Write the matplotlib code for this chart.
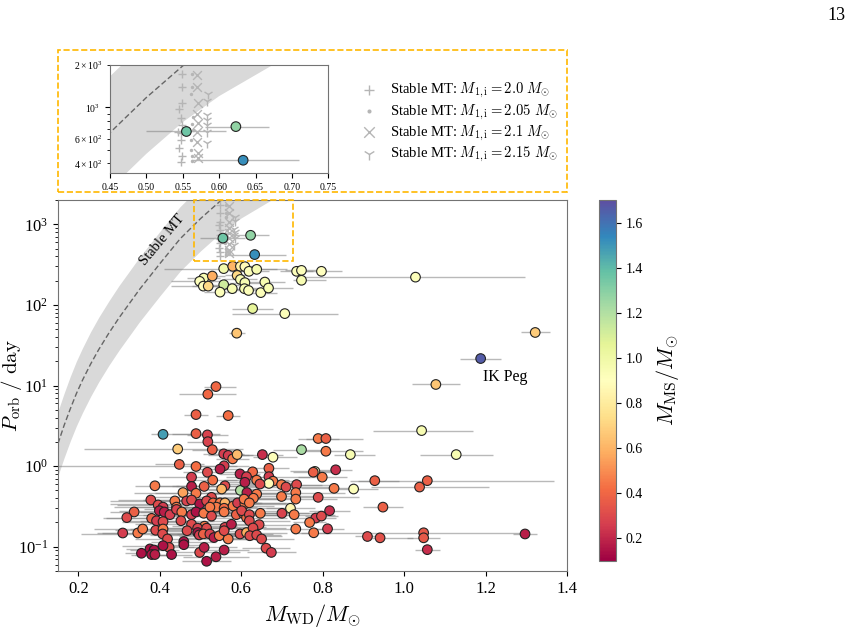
import numpy as np
import matplotlib.pyplot as plt
from matplotlib.patches import Rectangle

plt.rcParams['font.family'] = ['Liberation Serif', 'DejaVu Serif']
plt.rcParams['mathtext.fontset'] = 'cm'

# stable mass transfer relation
mt_mass = [0.15, 0.165, 0.18, 0.195, 0.21, 0.23, 0.25, 0.275, 0.30, 0.35, 0.40, 0.45, 0.50,
           0.55, 0.60, 0.65, 0.70, 0.75, 0.80]
mt_p = [1.9, 3.2, 5.1, 7.9, 11.6, 18.4, 27.9, 44.7, 69.2, 155, 324, 661, 1175,
        1972, 3020, 4266, 6026, 7852, 10233]
mt_p_hi = [4.8, 8.0, 12.9, 19.9, 29.1, 46.3, 70.1, 112, 174, 389, 813, 1660, 2951,
           4955, 7586, 10715, 15136, 19724, 25704]
mt_p_lo = [0.76, 1.27, 2.04, 3.14, 4.6, 7.3, 11.1, 17.8, 27.5, 61.7, 129, 263, 468,
           785, 1202, 1698, 2399, 3126, 4074]

# observed WD+MS binaries
m_wd = [0.555, 0.623, 0.633, 0.557, 0.579, 0.598, 0.609, 0.619, 0.638, 0.736, 0.748, 0.797,
        0.748, 1.028, 0.508, 0.498, 0.507, 0.519, 0.529, 0.557, 0.548, 0.578, 0.590, 0.598,
        0.609, 0.608, 0.618, 0.648, 0.658, 0.667, 0.628, 0.707, 0.589,
        1.322, 1.188, 1.078, 1.043, 0.789, 0.808, 0.748, 0.808, 0.868, 1.128, 0.781, 0.777,
        0.832, 0.799, 0.928, 1.057, 0.828, 0.876, 1.038, 0.789, 0.817, 0.948, 0.783, 0.797,
        0.768, 0.812, 0.778, 0.910, 0.941, 1.048, 1.048, 1.297, 1.057,
        0.538, 0.518, 0.489, 0.568, 0.408, 0.489, 0.517, 0.518, 0.444, 0.529, 0.557, 0.568,
        0.579, 0.590, 0.448, 0.489, 0.558, 0.548, 0.517, 0.597, 0.652, 0.678, 0.668, 0.628,
        0.478, 0.530, 0.613, 0.388, 0.478, 0.509, 0.560, 0.598, 0.609, 0.457, 0.489, 0.527,
        0.378, 0.437, 0.466, 0.478, 0.498, 0.515, 0.531, 0.548, 0.560, 0.539, 0.558, 0.580,
        0.591, 0.609, 0.396, 0.408, 0.399, 0.411, 0.425, 0.441, 0.441, 0.454, 0.337, 0.319,
        0.380, 0.392, 0.408, 0.452, 0.478, 0.489, 0.508, 0.523, 0.527, 0.558, 0.588, 0.605,
        0.613, 0.478, 0.510, 0.560, 0.576, 0.467, 0.493, 0.515, 0.309, 0.346, 0.358, 0.390,
        0.408, 0.407, 0.419, 0.493, 0.497, 0.507, 0.523, 0.533, 0.546, 0.568, 0.558, 0.597,
        0.613, 0.459, 0.459, 0.423, 0.408, 0.376, 0.386, 0.355, 0.380, 0.388, 0.429, 0.498,
        0.509, 0.558, 0.515, 0.538, 0.668, 0.678, 0.668, 0.699, 0.710, 0.736, 0.734, 0.734,
        0.699, 0.638, 0.646, 0.614, 0.638, 0.630, 0.607, 0.620, 0.601, 0.620, 0.620, 0.647,
        0.700, 0.721, 0.730, 0.644, 0.629, 0.621, 0.638, 0.650, 0.661, 0.674, 0.734, 0.552]

p_orb = [674, 730, 421, 282, 301, 301, 298, 261, 276, 261, 268, 261,
         202, 221, 215, 196, 171, 171, 228, 178, 144, 159, 232, 207,
         189, 159, 151, 142, 192, 162, 90, 78, 44.6,
         45.5, 21.6, 10.3, 2.76, 2.2, 2.2, 1.6, 1.53, 1.39, 1.39, 0.86, 0.84,
         0.90, 0.73, 0.66, 0.66, 0.53, 0.52, 0.55, 0.41, 0.28, 0.31, 0.227, 0.24,
         0.20, 0.167, 0.149, 0.134, 0.129, 0.149, 0.129, 0.144, 0.092,
         9.7, 7.8, 4.36, 4.24, 2.48, 2.53, 2.44, 2.01, 1.63, 1.60, 1.42, 1.36,
         1.23, 1.39, 1.05, 0.99, 1.01, 0.92, 0.84, 0.80, 1.39, 1.29, 0.94, 0.85,
         0.73, 0.67, 0.74, 0.57, 0.56, 0.56, 0.57, 0.50, 0.63, 0.47, 0.46, 0.41,
         0.38, 0.37, 0.37, 0.38, 0.34, 0.37, 0.35, 0.35, 0.35, 0.31, 0.30, 0.32,
         0.35, 0.34, 0.33, 0.31, 0.28, 0.27, 0.25, 0.31, 0.29, 0.27, 0.27, 0.23,
         0.225, 0.21, 0.205, 0.21, 0.25, 0.27, 0.26, 0.31, 0.24, 0.27, 0.25, 0.26,
         0.23, 0.19, 0.18, 0.174, 0.19, 0.158, 0.17, 0.17, 0.148, 0.148, 0.166, 0.16,
         0.166, 0.144, 0.125, 0.15, 0.14, 0.144, 0.144, 0.13, 0.137, 0.125, 0.158, 0.144,
         0.15, 0.116, 0.106, 0.098, 0.103, 0.094, 0.091, 0.083, 0.080, 0.080, 0.080, 0.085,
         0.098, 0.091, 0.066, 0.075, 0.74, 0.65, 0.61, 0.59, 0.55, 0.59, 0.47, 0.39,
         0.42, 0.67, 0.60, 0.47, 0.45, 0.40, 0.39, 0.35, 0.28, 0.25, 0.21, 0.26,
         0.26, 0.30, 0.25, 0.188, 0.171, 0.137, 0.14, 0.125, 0.096, 0.085, 0.166, 0.52]

m_ms = [1.36, 1.28, 1.52, 0.98, 0.60, 0.82, 0.88, 0.92, 0.95, 0.92, 0.92, 0.90,
        0.95, 0.92, 0.95, 0.92, 0.90, 0.72, 0.58, 1.12, 0.92, 0.95, 0.72, 0.95,
        0.95, 0.95, 0.92, 0.92, 0.95, 0.95, 1.05, 0.92, 0.65,
        0.68, 1.66, 0.65, 0.95, 0.45, 0.38, 1.22, 0.45, 0.95, 0.95, 0.90, 0.38,
        0.22, 0.45, 0.38, 0.38, 0.45, 0.92, 0.38, 0.30, 0.22, 0.38, 0.26, 0.30,
        0.45, 0.26, 0.45, 0.30, 0.33, 0.35, 0.35, 0.18, 0.22,
        0.40, 0.40, 0.38, 0.42, 1.48, 0.38, 0.28, 0.28, 0.68, 0.38, 0.26, 0.26,
        0.45, 0.62, 0.38, 0.42, 0.26, 0.18, 0.30, 0.18, 0.22, 0.92, 0.38, 0.40,
        0.26, 0.42, 0.26, 0.45, 0.18, 0.38, 0.30, 1.20, 0.18, 0.55, 0.45, 0.30,
        0.30, 0.45, 0.28, 0.30, 0.15, 0.30, 0.42, 0.45, 0.60, 0.45, 0.42, 0.45,
        0.26, 0.45, 0.30, 0.26, 0.18, 0.18, 0.26, 0.45, 0.28, 0.45, 0.38, 0.30,
        0.38, 0.26, 0.30, 0.30, 0.26, 0.15, 0.45, 0.45, 0.30, 0.45, 0.38, 0.45,
        0.42, 0.30, 0.45, 0.28, 0.18, 0.30, 0.28, 0.30, 0.26, 0.45, 0.45, 0.30,
        0.45, 0.30, 0.30, 0.15, 0.26, 0.38, 0.28, 0.18, 0.45, 0.45, 0.30, 0.30,
        0.58, 0.15, 0.15, 0.30, 0.15, 0.15, 0.15, 0.15, 0.15, 0.18, 0.15, 0.30,
        0.18, 0.18, 0.15, 0.18, 0.26, 0.45, 0.88, 0.45, 0.30, 0.30, 0.45, 0.45,
        0.45, 0.45, 0.30, 0.18, 0.45, 0.45, 0.45, 0.45, 0.30, 0.30, 0.30, 0.45,
        0.28, 0.85, 0.45, 0.30, 0.30, 0.30, 0.30, 0.30, 0.30, 0.26, 0.45, 0.60]

err_lo = [0.056, 0.043, 0.072, 0.147, 0.03, 0.03, 0.04, 0.05, 0.03, 0.04, 0.04, 0.05,
          0.02, 0.28, 0.04, 0.07, 0.08, 0.04, 0.03, 0.04, 0.04, 0.04, 0.03, 0.04,
          0.04, 0.03, 0.04, 0.04, 0.05, 0.06, 0.05, 0.13, 0.02,
          0.036, 0.05, 0.058, 0.12, 0.05, 0.05, 0.07, 0.06, 0.04, 0.09, 0.06, 0.05,
          0.04, 0.06, 0.06, 0.17, 0.08, 0.06, 0.12, 0.05, 0.05, 0.05, 0.05, 0.04,
          0.04, 0.04, 0.05, 0.03, 0.03, 0.30, 0.04, 0.03, 0.03,
          0.03, 0.07, 0.03, 0.03, 0.03, 0.06, 0.05, 0.05, 0.23, 0.05, 0.05, 0.05,
          0.04, 0.04, 0.06, 0.40, 0.06, 0.05, 0.06, 0.05, 0.05, 0.05, 0.05, 0.05,
          0.08, 0.06, 0.05, 0.05, 0.10, 0.08, 0.12, 0.08, 0.06, 0.12, 0.10, 0.14,
          0.08, 0.16, 0.10, 0.12, 0.22, 0.08, 0.10, 0.08, 0.10, 0.12, 0.10, 0.08,
          0.10, 0.08, 0.10, 0.12, 0.10, 0.06, 0.08, 0.10, 0.08, 0.06, 0.06, 0.05,
          0.12, 0.08, 0.10, 0.10, 0.12, 0.10, 0.12, 0.08, 0.10, 0.06, 0.10, 0.08,
          0.08, 0.14, 0.08, 0.10, 0.06, 0.10, 0.08, 0.10, 0.05, 0.10, 0.12, 0.10,
          0.08, 0.20, 0.08, 0.10, 0.12, 0.10, 0.08, 0.08, 0.10, 0.06, 0.08, 0.08,
          0.10, 0.08, 0.08, 0.06, 0.10, 0.06, 0.06, 0.04, 0.05, 0.05, 0.05, 0.08,
          0.06, 0.06, 0.06, 0.08, 0.08, 0.06, 0.06, 0.10, 0.10, 0.10, 0.10, 0.12,
          0.10, 0.08, 0.08, 0.10, 0.12, 0.10, 0.12, 0.10, 0.12, 0.10, 0.10, 0.10,
          0.10, 0.06, 0.10, 0.08, 0.08, 0.08, 0.06, 0.08, 0.06, 0.06, 0.08, 0.08]

err_hi = [0.055, 0.046, 0.077, 0.155, 0.03, 0.04, 0.04, 0.05, 0.05, 0.04, 0.04, 0.05,
          0.06, 0.27, 0.04, 0.06, 0.06, 0.04, 0.03, 0.04, 0.04, 0.04, 0.03, 0.04,
          0.06, 0.03, 0.04, 0.04, 0.05, 0.06, 0.05, 0.13, 0.02,
          0.037, 0.05, 0.06, 0.125, 0.05, 0.09, 0.07, 0.09, 0.06, 0.09, 0.06, 0.05,
          0.04, 0.06, 0.06, 0.31, 0.05, 0.06, 0.17, 0.10, 0.05, 0.05, 0.05, 0.04,
          0.04, 0.04, 0.04, 0.03, 0.08, 0.25, 0.04, 0.03, 0.03,
          0.05, 0.07, 0.03, 0.03, 0.14, 0.04, 0.05, 0.05, 0.16, 0.05, 0.05, 0.05,
          0.04, 0.04, 0.06, 0.10, 0.06, 0.05, 0.06, 0.05, 0.05, 0.06, 0.05, 0.05,
          0.06, 0.06, 0.05, 0.06, 0.08, 0.08, 0.10, 0.10, 0.06, 0.10, 0.10, 0.12,
          0.08, 0.08, 0.10, 0.10, 0.12, 0.08, 0.12, 0.10, 0.08, 0.10, 0.15, 0.10,
          0.12, 0.10, 0.06, 0.06, 0.06, 0.06, 0.08, 0.08, 0.08, 0.06, 0.06, 0.06,
          0.08, 0.08, 0.10, 0.08, 0.10, 0.12, 0.12, 0.08, 0.10, 0.08, 0.10, 0.08,
          0.10, 0.10, 0.08, 0.10, 0.06, 0.08, 0.08, 0.10, 0.05, 0.06, 0.06, 0.08,
          0.08, 0.10, 0.08, 0.10, 0.12, 0.10, 0.08, 0.08, 0.10, 0.06, 0.08, 0.08,
          0.10, 0.08, 0.06, 0.06, 0.06, 0.06, 0.06, 0.04, 0.05, 0.05, 0.05, 0.10,
          0.08, 0.06, 0.06, 0.08, 0.10, 0.06, 0.08, 0.10, 0.12, 0.10, 0.12, 0.10,
          0.10, 0.08, 0.08, 0.12, 0.10, 0.10, 0.10, 0.10, 0.10, 0.10, 0.10, 0.12,
          0.10, 0.06, 0.10, 0.08, 0.08, 0.08, 0.06, 0.08, 0.06, 0.06, 0.08, 0.08]

# binary models with stable MT, one list per initial mass
mod_20_m = [0.549, 0.549, 0.549, 0.545, 0.548, 0.549, 0.544, 0.548, 0.548, 0.545, 0.549, 0.548]
mod_20_p = [1722, 1392, 1066, 973, 843, 747, 670, 653, 587, 514, 454, 408]
mod_205_m = [0.563, 0.563, 0.562, 0.564, 0.563, 0.564, 0.561, 0.562, 0.563, 0.563]
mod_205_p = [1722, 1392, 1238, 853, 766, 689, 587, 500, 450, 415]
mod_21_m = [0.570, 0.570, 0.571, 0.569, 0.571, 0.570, 0.570, 0.571, 0.571]
mod_21_p = [1703, 1392, 1066, 899, 778, 670, 572, 474, 438]
mod_215_m = [0.585, 0.584, 0.583, 0.584, 0.583, 0.584, 0.583]
mod_215_p = [1238, 1112, 876, 808, 747, 670, 556]

cmap = 'Spectral'
vmin, vmax = 0.1, 1.7
amber = '#FFB800'

fig = plt.figure(figsize=(8.54, 6.36), dpi=100)
ax = fig.add_axes([0.0679, 0.1022, 0.596, 0.5833])


def draw_panel(a, ms, lw_e):
    a.fill_between(mt_mass, mt_p_lo, mt_p_hi, color='#d9d9d9', lw=0, zorder=0)
    a.plot(mt_mass, mt_p, ls=(0, (4, 2)), color='#666666', lw=1, zorder=1)
    a.errorbar(m_wd, p_orb, xerr=[err_lo, err_hi], fmt='none', ecolor='grey',
               elinewidth=lw_e, alpha=0.55, zorder=2)
    hs = []
    hs.append(a.scatter(mod_20_m, mod_20_p, marker='+', color='#b5b5b5', s=ms, lw=1, zorder=2))
    hs.append(a.scatter(mod_205_m, mod_205_p, marker='.', color='#b5b5b5', s=ms * 0.6, lw=0, zorder=2))
    hs.append(a.scatter(mod_21_m, mod_21_p, marker='x', color='#b5b5b5', s=ms, lw=1, zorder=2))
    hs.append(a.scatter(mod_215_m, mod_215_p, marker='1', color='#b5b5b5', s=ms * 1.3, lw=1, zorder=2))
    sc = a.scatter(m_wd, p_orb, c=m_ms, cmap=cmap, vmin=vmin, vmax=vmax, s=48,
                   edgecolors='#222222', linewidths=0.8, zorder=3)
    a.set_yscale('log')
    for sp in a.spines.values():
        sp.set_color('0.45')
    return sc, hs


sc, _ = draw_panel(ax, 40, 1.0)
ax.set_xlim(0.15, 1.4)
ax.set_ylim(0.05, 2000)
ax.tick_params(labelsize=12)
ax.set_xlabel(r'$M_{\rm WD}/M_{\odot}$', fontsize=16)
ax.set_ylabel(r'$P_{\rm orb}\ /\ {\rm day}$', fontsize=15)
ax.yaxis.set_label_coords(-0.066, 0.5)
ax.text(0.407, 640, 'Stable MT', rotation=50, ha='center', va='center', fontsize=10.5)
ax.text(1.193, 12.9, 'IK Peg', ha='left', va='center', fontsize=11.5)
ax.add_patch(Rectangle((0.485, 352), 0.242, 1648, fill=False, ls='--', lw=1.2,
                       edgecolor=amber, zorder=4, clip_on=False))

# colour bar
cax = fig.add_axes([0.701, 0.118, 0.020, 0.5676])
cb = fig.colorbar(sc, cax=cax)
cb.set_ticks([0.2, 0.4, 0.6, 0.8, 1.0, 1.2, 1.4, 1.6])
cb.ax.tick_params(labelsize=10)
cb.outline.set_edgecolor('0.45')
cb.set_label(r'$M_{\rm MS}/M_{\odot}$', fontsize=16, labelpad=8)

# zoomed inset
ax_in = fig.add_axes([0.1288, 0.7275, 0.2556, 0.1703])
_, handles = draw_panel(ax_in, 40, 1.0)
ax_in.set_xlim(0.45, 0.75)
ax_in.set_ylim(340, 2000)
ax_in.set_xticks([0.45, 0.50, 0.55, 0.60, 0.65, 0.70, 0.75])
ax_in.tick_params(which='both', labelsize=7)

labels = [r'Stable MT: $M_{\rm 1,i} = 2.0\ M_{\odot}$',
          r'Stable MT: $M_{\rm 1,i} = 2.05\ M_{\odot}$',
          r'Stable MT: $M_{\rm 1,i} = 2.1\ M_{\odot}$',
          r'Stable MT: $M_{\rm 1,i} = 2.15\ M_{\odot}$']
fig.legend(handles, labels, loc='center left', bbox_to_anchor=(0.412, 0.807),
           frameon=False, fontsize=10.5, borderaxespad=0, labelspacing=0.15,
           handletextpad=0.6, handlelength=1.6, markerscale=1.2)

fig.add_artist(Rectangle((0.0676, 0.6986), 0.596, 0.2228, fill=False, ls='--', lw=1.2,
                         edgecolor=amber, transform=fig.transFigure))

fig.text(0.99, 0.976, '13', ha='right', va='center', fontsize=13)

fig.savefig('out.png', dpi=100)
